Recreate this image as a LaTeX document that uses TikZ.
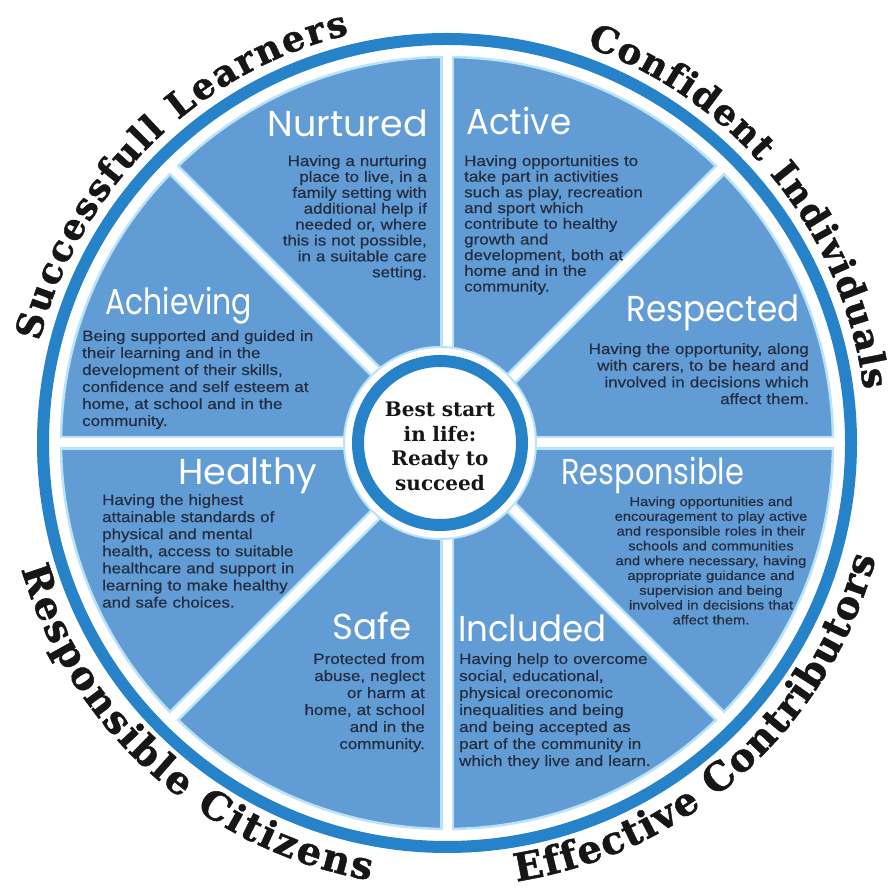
\documentclass[tikz,border=0pt]{standalone}
\usepackage{fontspec}
\usepackage{graphicx}
\usetikzlibrary{decorations.text}
\setmainfont{Liberation Sans}
\newfontfamily\bodyfont{Liberation Sans}[FakeStretch=1.13, FakeBold=0.4]
\newfontfamily\slabfont{DejaVu Serif}
\newfontfamily\slabheavy{DejaVu Serif Bold}[FakeBold=1.2]
\newfontfamily\handfont{Poppins}
\definecolor{ringblue}{RGB}{38,130,201}
\definecolor{sectorblue}{RGB}{97,156,212}
\definecolor{fringe}{RGB}{185,228,248}
\definecolor{bodytext}{RGB}{36,44,64}
\definecolor{outertext}{RGB}{22,22,22}
\newcommand\outerstyle{\slabheavy\fontsize{36}{40}\selectfont}
\newcommand\outerbig{\slabheavy\fontsize{38.5}{44}\selectfont}
\newcommand\fitw[2]{\resizebox{#1pt}{\height}{#2}}
\begin{document}
\begin{tikzpicture}[x=1pt,y=1pt,
  ringline/.style={draw=ringblue, line width=12pt},
  divfringe/.style={draw=fringe, line width=14pt},
  divwhite/.style={draw=white, line width=9pt},
  titletext/.style={inner sep=0pt, text=white, font=\handfont\fontsize{36}{40}\selectfont},
  bodyblock/.style={inner sep=0pt, text=bodytext, text width=260pt, font=\bodyfont\fontsize{15}{#1}\selectfont},
  smallblock/.style={inner sep=0pt, text=bodytext, text width=260pt, font=\bodyfont\fontsize{13}{#1}\selectfont},
  centertext/.style={inner sep=0pt, text=outertext, text width=160pt, align=center, font=\slabfont\bfseries\fontsize{20}{24.5}\selectfont},
  arctext/.style={decorate, decoration={text along path, text align={fit to path}, text color=outertext, text={|\outerstyle|#1}}},
  arctextbig/.style={decorate, decoration={text along path, text align={fit to path}, text color=outertext, text={|\outerbig|#1}}}
]
\useasboundingbox (0,0) rectangle (891,890);
\fill[white] (0,0) rectangle (891,890);

% outer ring
\draw[ringline] (447,447) circle[radius=404];
% disk of sectors
\fill[sectorblue, draw=fringe, line width=2.5pt] (447,447) circle[radius=386];
\foreach \a in {0,45,...,315} {
  \draw[divfringe] (447,447) -- ++(\a:387);
}
\foreach \a in {0,45,...,315} {
  \draw[divwhite] (447,447) -- ++(\a:392);
}
% centre
\fill[white, draw=fringe, line width=2pt] (440,447) circle[radius=96];
\draw[ringline] (440,447) circle[radius=82];
\node[centertext, anchor=base] (core) at (440,473) {Best start\\in life:\\Ready to\\succeed};

% titles
\node[titletext, anchor=base east] (nurturedT) at (428,753) {\fitw{160}{Nurtured}};
\node[titletext, anchor=base west] (activeT) at (466,755) {\fitw{105}{Active}};
\node[titletext, anchor=base east] (respectedT) at (800,568) {\fitw{173}{Respected}};
\node[titletext, anchor=base west] (achievingT) at (105,575) {\fitw{147}{Achieving}};
\node[titletext, anchor=base west] (healthyT) at (178,405) {\fitw{139}{Healthy}};
\node[titletext, anchor=base east] (safeT) at (412,250) {\fitw{79}{Safe}};
\node[titletext, anchor=base west] (responsibleT) at (561,405) {\fitw{183}{Responsible}};
\node[titletext, anchor=base west] (includedT) at (458,248) {\fitw{148}{Included}};

% bodies
\node[bodyblock=15.9, align=right, anchor=base east] (nurturedB) at (427,724)
  {Having a nurturing\\place to live, in a\\family setting with\\additional help if\\needed or, where\\this is not possible,\\in a suitable care\\setting.};
\node[bodyblock=15.7, align=left, anchor=base west] (activeB) at (464,724)
  {Having opportunities to\\take part in activities\\such as play, recreation\\and sport which\\contribute to healthy\\growth and\\development, both at\\home and in the\\community.};
\node[bodyblock=16.7, align=right, anchor=base east] (respectedB) at (809,536)
  {Having the opportunity, along\\with carers, to be heard and\\involved in decisions which\\affect them.};
\node[bodyblock=17, align=left, anchor=base west] (achievingB) at (82,549)
  {Being supported and guided in\\their learning and in the\\development of their skills,\\confidence and self esteem at\\home, at school and in the\\community.};
\node[bodyblock=17.1, align=left, anchor=base west] (healthyB) at (102,385)
  {Having the highest\\attainable standards of\\physical and mental\\health, access to suitable\\healthcare and support in\\learning to make healthy\\and safe choices.};
\node[bodyblock=17, align=right, anchor=base east] (safeB) at (425,226)
  {Protected from\\abuse, neglect\\or harm at\\home, at school\\and in the\\community.};
\node[smallblock=14.8, align=center, anchor=base] (responsibleB) at (711,384)
  {Having opportunities and\\encouragement to play active\\and responsible roles in their\\schools and communities\\and where necessary, having\\appropriate guidance and\\supervision and being\\involved in decisions that\\affect them.};
\node[bodyblock=17, align=left, anchor=base west] (includedB) at (459,226)
  {Having help to overcome\\social, educational,\\physical oreconomic\\inequalities and being\\and being accepted as\\part of the community in\\which they live and learn.};

% curved outer texts
\path[arctext={Successfull Learners}] ([shift={(447,447)}]166:420) arc[start angle=166, end angle=103.5, radius=420];
\path[arctext={Confident Individuals}] ([shift={(447,447)}]70.6:420) arc[start angle=70.6, end angle=7.3, radius=420];
\path[arctextbig={Responsible Citizens}] ([shift={(447,447)}]196.5:444) arc[start angle=196.5, end angle=260, radius=444];
\path[arctextbig={Effective Contributors}] ([shift={(447,447)}]279:444) arc[start angle=279, end angle=345, radius=444];
\end{tikzpicture}
\end{document}
